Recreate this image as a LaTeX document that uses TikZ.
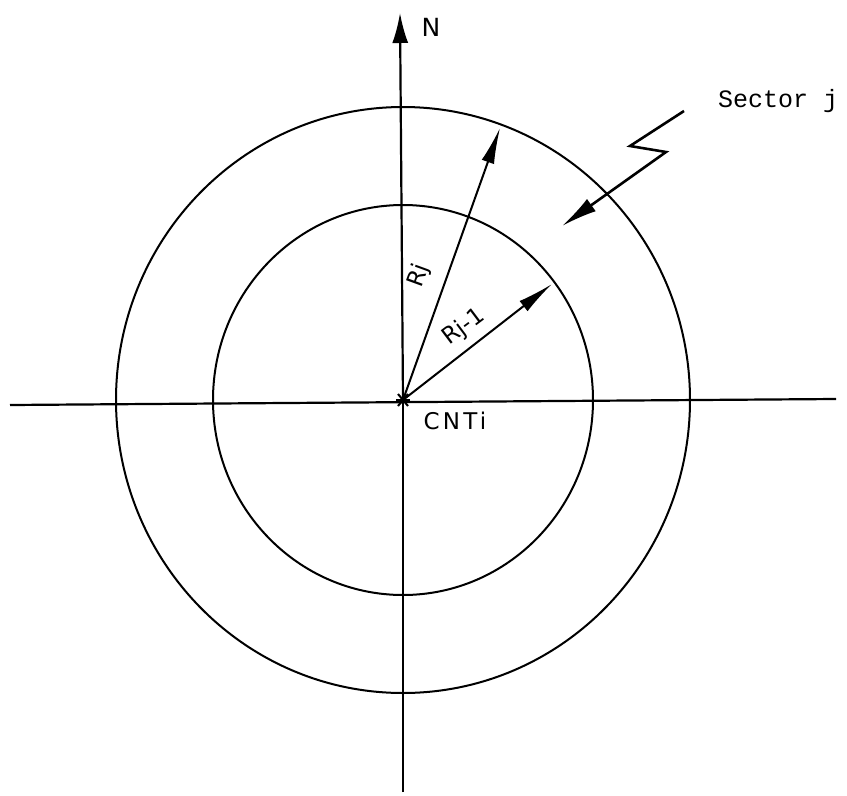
\documentclass[tikz,border=0pt]{standalone}
\usepackage{fontspec}
\setmainfont{DejaVu Sans}
\newfontfamily\labfont[LetterSpace=14]{DejaVu Sans}
\newfontfamily\monofont{Liberation Mono}
\usetikzlibrary{arrows.meta}
\begin{document}
\begin{tikzpicture}[x=1pt,y=-1pt,
  axis/.style={line width=2.2pt},
  ring/.style={line width=2pt},
  vec/.style={line width=2pt,-{Latex[length=36pt,width=13pt]}},
  lab/.style={inner sep=0pt,font=\fontsize{23}{23}\selectfont\labfont},
  rlab/.style={inner sep=0pt,font=\fontsize{23}{23}\selectfont}]
\useasboundingbox (0,0) rectangle (847,796);
\coordinate (C) at (403,400);
\coordinate (Ntip) at (400,13);
\coordinate (Sbot) at (403,792);
\coordinate (W) at (10,405);
\coordinate (E) at (836,399);
\coordinate (RjT) at (500,128);
\coordinate (Rj1T) at (552,284);
\coordinate (L1) at (684,111);
\coordinate (L2) at (630,146);
\coordinate (L3) at (666,152);
\coordinate (L4) at (562,226);
% circles
\draw[ring] (C) ellipse [x radius=287, y radius=293];
\draw[ring] (C) ellipse [x radius=190, y radius=195];
% axes
\draw[axis] (W) -- (E);
\draw[axis] (Sbot) -- (C);
\draw[axis,-{Latex[length=30pt,width=16pt]}] (C) -- (Ntip);
% radii
\draw[vec] (C) -- (RjT);
\draw[vec] (C) -- (Rj1T);
% lightning arrow
\draw[line width=2.6pt,line join=miter,-{Latex[length=36pt,width=15pt]}] (L1) -- (L2) -- (L3) -- (L4);
% centre star
\draw[line width=2pt] (C) ++(-7,0) -- ++(14,0);
\draw[line width=2pt] (C) ++(-5,-6) -- ++(10,12);
\draw[line width=2pt] (C) ++(5,-6) -- ++(-10,12);
% labels
\node[lab] (N) at (431,27) {\fontsize{25}{25}\selectfont N};
\node[anchor=west,inner sep=0pt,font=\fontsize{25}{25}\selectfont\monofont] (sec) at (718,101) {Sector j};
\node[lab] (cnt) at (455,421) {CNTi};
\node[rlab,rotate=70] (rj) at (419,276) {Rj};
\node[rlab,rotate=37] (rj1) at (464,327) {Rj-1};
\end{tikzpicture}
\end{document}
